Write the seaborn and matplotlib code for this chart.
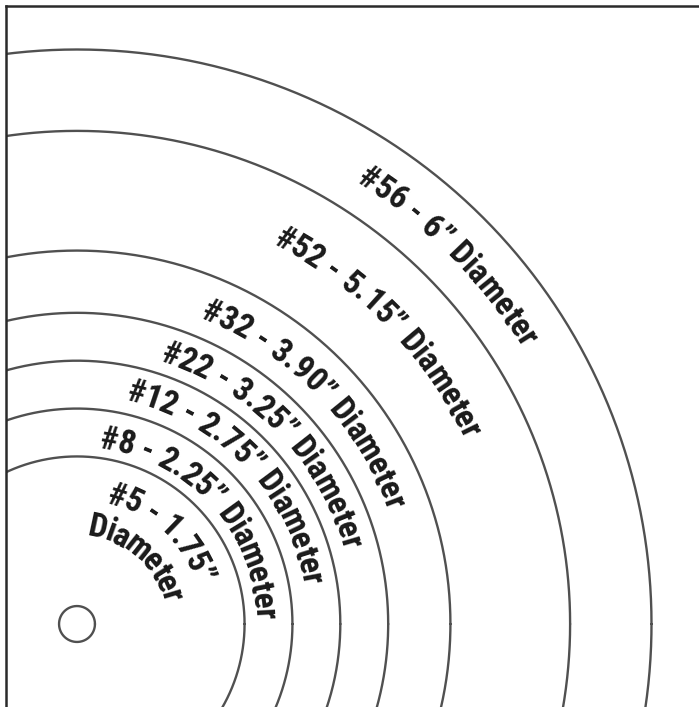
import numpy as np
import pandas as pd
import matplotlib
matplotlib.use("Agg")
import matplotlib.pyplot as plt
import seaborn as sns
from matplotlib import font_manager as fm
from matplotlib.font_manager import FontProperties
from matplotlib.ft2font import FT2Font

# ---------------- data ----------------
sizes = ["#56", "#52", "#32", "#22", "#12", "#8", "#5"]
diameters = [6.0, 5.15, 3.90, 3.25, 2.75, 2.25, 1.75]          # inches
diam_labels = ["6", "5.15", "3.90", "3.25", "2.75", "2.25", "1.75"]
hole_diameter = 0.1875                                           # inches

# ---------------- layout ----------------
DPI = 100
W, H = 699, 707
S = 191.5            # pixels per inch
CX, CY = 77, 624     # centre of the rings (pixels from top-left)
FRAME = 6.3          # frame line position (px)

# label layout: (text centre radius px, start angle deg of first glyph centre)
label_layout = {
    "#56": [(535, 56.8)],
    "#52": [(440, 61.6)],
    "#32": [(342, 66.6)],
    "#22": [(288, 70.7)],
    "#12": [(241, 75.6)],
    "#8": [(190, 80.0)],
    "#5": [(137, 72.5), (101, 78.0)],
}
FONT_PT = 24
TRACK_PX = 0.3

sns.set_theme(style="white")

cands = ["Liberation Sans Narrow", "DejaVu Sans Condensed", "Roboto Condensed",
         "Liberation Sans", "DejaVu Sans"]
avail = {f.name for f in fm.fontManager.ttflist}
family = next(c for c in cands if c in avail)
prop = FontProperties(family=family, weight="bold", size=FONT_PT)
font_path = fm.findfont(prop)
ft = FT2Font(font_path)
ft.set_size(FONT_PT, 72)

def adv_in(ch):
    g = ft.load_char(ord(ch))
    pts = g.linearHoriAdvance / 65536.0
    return pts * DPI / 72.0 / S

def arc_text(ax, s, r_px, start_deg, color="#1a1a1a"):
    r = r_px / S
    advs = [adv_in(c) for c in s]
    track = TRACK_PX / S
    pos = 0.0
    theta0 = np.deg2rad(start_deg) + (advs[0] / 2) / r
    for c, a in zip(s, advs):
        mid = pos + a / 2
        th = theta0 - mid / r
        x, y = r * np.cos(th), r * np.sin(th)
        if c != " ":
            ax.text(x, y, c, fontproperties=prop, color=color,
                    rotation=np.rad2deg(th) - 90, rotation_mode="anchor",
                    ha="center", va="center_baseline", zorder=5)
        pos += a + track

# ---------------- figure ----------------
fig = plt.figure(figsize=(W / DPI, H / DPI), dpi=DPI)
left = FRAME / W
top = (H - FRAME) / H
ax = fig.add_axes([left, 0, 1 - left, top])

theta = np.linspace(0, 2 * np.pi, 1441)
rows = []
for sz, d in zip(sizes, diameters):
    r = d / 2
    rows.append(pd.DataFrame({"x": r * np.cos(theta), "y": r * np.sin(theta), "ring": sz}))
rows.append(pd.DataFrame({"x": hole_diameter / 2 * np.cos(theta),
                          "y": hole_diameter / 2 * np.sin(theta), "ring": "hole"}))
df = pd.concat(rows, ignore_index=True)

sns.lineplot(data=df, x="x", y="y", units="ring", estimator=None, sort=False,
             color="#505050", linewidth=1.7, ax=ax, legend=False)

for sz, dl in zip(sizes, diam_labels):
    lay = label_layout[sz]
    if len(lay) == 1:
        arc_text(ax, f"{sz} - {dl}\u201d Diameter", *lay[0])
    else:
        arc_text(ax, f"{sz} - {dl}\u201d", *lay[0])
        arc_text(ax, "Diameter", *lay[1])

ax.set_xlim((FRAME - CX) / S, (W - CX) / S)
ax.set_ylim((CY - H) / S, (CY - FRAME) / S)
ax.set_xticks([])
ax.set_yticks([])
ax.set_xlabel("")
ax.set_ylabel("")
for side in ["right", "bottom"]:
    ax.spines[side].set_visible(False)
for side in ["left", "top"]:
    ax.spines[side].set_visible(True)
    ax.spines[side].set_color("#2a2a2a")
    ax.spines[side].set_linewidth(1.8)
ax.set_facecolor("white")
fig.patch.set_facecolor("white")

fig.savefig("out.png", dpi=DPI)
